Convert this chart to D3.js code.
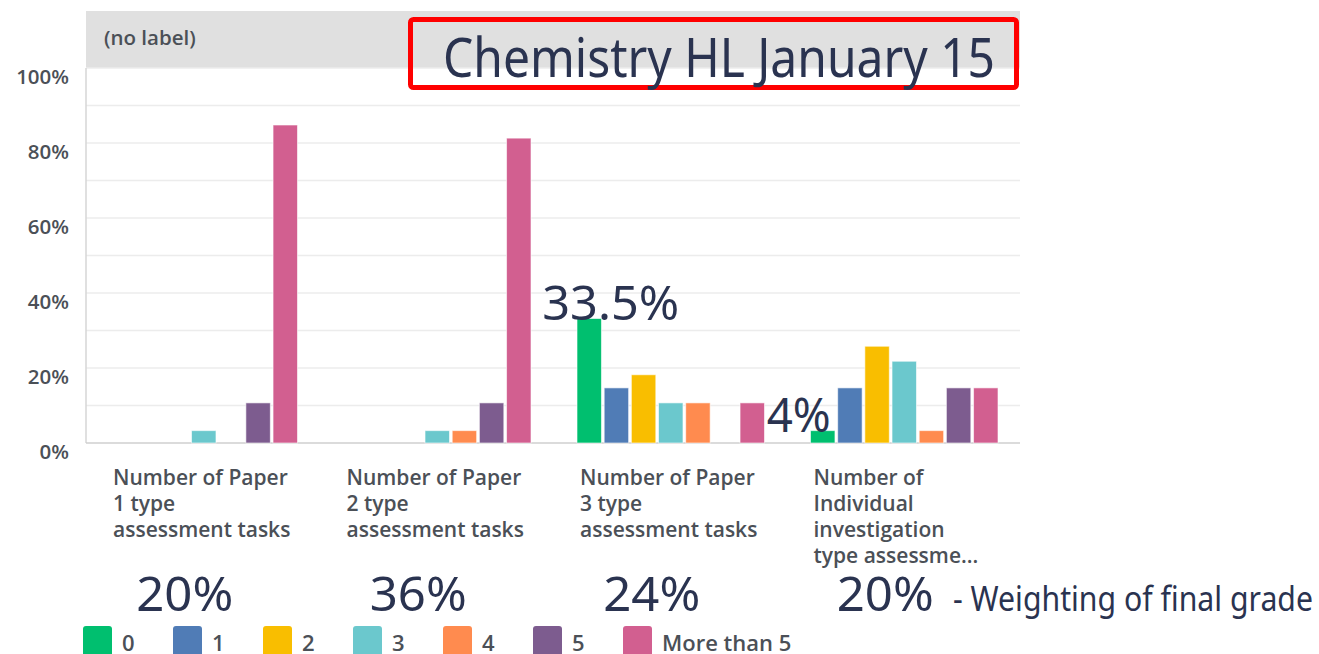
<!DOCTYPE html>
<html>
<head>
<meta charset="utf-8">
<script src="https://cdn.jsdelivr.net/npm/d3@7"></script>
<style>
  html, body { margin: 0; padding: 0; background: #fff; }
  svg { display: block; }
</style>
</head>
<body>
<script>
// ---------- data ----------
const categories = [
  ["Number of Paper", "1 type", "assessment tasks"],
  ["Number of Paper", "2 type", "assessment tasks"],
  ["Number of Paper", "3 type", "assessment tasks"],
  ["Number of", "Individual", "investigation", "type assessme..."]
];
const categoryKeys = ["P1", "P2", "P3", "IA"];
const series = ["0", "1", "2", "3", "4", "5", "More than 5"];
const colors = ["#00bf6f", "#507cb6", "#f9be00", "#6bc8cd", "#ff8b4f", "#7d5c8f", "#d25f90"];
// values (%) per category, in series order
const valuesP1 = [0, 0, 0, 3.3, 0, 10.7, 84.8];
const valuesP2 = [0, 0, 0, 3.3, 3.3, 10.7, 81.3];
const valuesP3 = [33.2, 14.7, 18.2, 10.7, 10.7, 0, 10.7];
const valuesIA = [3.3, 14.7, 25.8, 21.8, 3.3, 14.7, 14.7];
const allValues = [valuesP1, valuesP2, valuesP3, valuesIA];
const yTicks = [0, 20, 40, 60, 80, 100];
const weightings = ["20%", "36%", "24%", "20%"];
const weightingNote = "- Weighting of final grade";
const title = "Chemistry HL January 15";
const headerLabel = "(no label)";
const annotations = [
  { cat: "P3", series: "0", text: "33.5%" },
  { cat: "IA", series: "0", text: "4%" }
];

// ---------- layout ----------
const W = 1319, H = 654;
const plot = { left: 86, right: 1020, top: 68, bottom: 443 };
const svg = d3.select("body").append("svg").attr("width", W).attr("height", H);

const x0 = d3.scaleBand().domain(categoryKeys).range([plot.left, plot.right]).padding(0);
const x1 = d3.scaleBand().domain(series).range([24, x0.bandwidth() - 22]).paddingInner(0.1);
const y = d3.scaleLinear().domain([0, 100]).range([plot.bottom, plot.top]);
const color = d3.scaleOrdinal().domain(series).range(colors);

const axisFont = "'Open Sans', 'DejaVu Sans', sans-serif";
const annoFont = "'Noto Sans', 'Open Sans', sans-serif";
const grey = "#4b5057";
const navy = "#2a3350";

// header band
svg.append("rect").attr("x", plot.left).attr("y", 11)
  .attr("width", plot.right - plot.left).attr("height", plot.top - 11)
  .attr("fill", "#e0e0e0");
svg.append("text").attr("x", 104).attr("y", 45)
  .attr("font-family", axisFont).attr("font-weight", 600).attr("font-size", 20.5)
  .attr("fill", grey).text(headerLabel);

// gridlines every 10%
const grid = d3.range(10, 101, 10);
svg.append("g").selectAll("line").data(grid).join("line")
  .attr("x1", plot.left).attr("x2", plot.right)
  .attr("y1", d => y(d)).attr("y2", d => y(d))
  .attr("stroke", "#ececec").attr("stroke-width", 1.5);

// left axis line and baseline
svg.append("line").attr("x1", plot.left).attr("x2", plot.left)
  .attr("y1", plot.top).attr("y2", plot.bottom).attr("stroke", "#d6d6d6").attr("stroke-width", 1.5);
svg.append("line").attr("x1", plot.left).attr("x2", plot.right)
  .attr("y1", plot.bottom).attr("y2", plot.bottom).attr("stroke", "#cfcfcf").attr("stroke-width", 1.5);

// y axis labels (via d3 axis)
const yAxis = d3.axisLeft(y).tickValues(yTicks).tickFormat(d => d + "%").tickSize(0).tickPadding(17);
const gy = svg.append("g").attr("transform", `translate(${plot.left},0)`).call(yAxis);
gy.select(".domain").remove();
gy.selectAll("text").attr("font-family", axisFont).attr("font-weight", 600)
  .attr("font-size", 20.5).attr("fill", grey).attr("dy", 15);

// bars
const groups = svg.append("g").selectAll("g").data(categoryKeys).join("g")
  .attr("transform", d => `translate(${x0(d)},0)`);
groups.selectAll("rect")
  .data((d, i) => series.map((s, j) => ({ s, v: allValues[i][j] })).filter(e => e.v > 0))
  .join("rect")
  .attr("x", d => x1(d.s)).attr("width", x1.bandwidth())
  .attr("y", d => y(d.v)).attr("height", d => y(0) - y(d.v))
  .attr("fill", d => color(d.s))
  .attr("stroke", "rgba(255,255,255,0.6)").attr("stroke-width", 1);

// category labels
const catLabels = svg.append("g").selectAll("text").data(categoryKeys).join("text")
  .attr("x", d => x0(d) + 27).attr("y", 485)
  .attr("font-family", axisFont).attr("font-weight", 600).attr("font-size", 21)
  .attr("fill", grey);
catLabels.each(function (d, i) {
  const t = d3.select(this);
  categories[i].forEach((line, k) => {
    t.append("tspan").attr("x", x0(d) + 27).attr("dy", k === 0 ? 0 : 26).text(line);
  });
});

// weighting annotations
svg.append("g").selectAll("text").data(categoryKeys).join("text")
  .attr("x", d => x0(d) + x0.bandwidth() / 2 - 18).attr("y", 611)
  .attr("text-anchor", "middle")
  .attr("font-family", annoFont).attr("font-size", 47).attr("fill", navy)
  .attr("textLength", 97).attr("lengthAdjust", "spacingAndGlyphs")
  .text((d, i) => weightings[i]);
svg.append("text").attr("x", 953).attr("y", 611)
  .attr("font-family", annoFont).attr("font-size", 35).attr("fill", navy)
  .attr("textLength", 360).attr("lengthAdjust", "spacingAndGlyphs")
  .text(weightingNote);

// bar value annotations
const annoOffsets = { "33.5%": -47, "4%": -56 };
svg.append("g").selectAll("text").data(annotations).join("text")
  .attr("x", d => x0(d.cat) + x1(d.series) + x1.bandwidth() / 2 + annoOffsets[d.text])
  .attr("y", d => {
    const ci = categoryKeys.indexOf(d.cat), si = series.indexOf(d.series);
    return y(allValues[ci][si]) + 1;
  })
  .attr("font-family", annoFont).attr("font-size", 48).attr("fill", navy)
  .attr("textLength", d => d.text === "33.5%" ? 137 : 64).attr("lengthAdjust", "spacingAndGlyphs")
  .text(d => d.text);

// title box
svg.append("rect").attr("x", 410.5).attr("y", 19.5).attr("width", 606).attr("height", 68)
  .attr("rx", 3).attr("fill", "none").attr("stroke", "#ff0000").attr("stroke-width", 5);
svg.append("text").attr("x", 443).attr("y", 77)
  .attr("font-family", annoFont).attr("font-size", 55).attr("fill", navy)
  .attr("textLength", 552).attr("lengthAdjust", "spacingAndGlyphs")
  .text(title);

// legend
const legend = svg.append("g").selectAll("g").data(series).join("g")
  .attr("transform", (d, i) => `translate(${83 + i * 90},626)`);
legend.append("rect").attr("width", 29).attr("height", 34).attr("rx", 3)
  .attr("fill", d => color(d));
legend.append("text").attr("x", 39).attr("y", 25)
  .attr("font-family", axisFont).attr("font-weight", 600).attr("font-size", 22)
  .attr("fill", grey).text(d => d);
</script>
</body>
</html>
